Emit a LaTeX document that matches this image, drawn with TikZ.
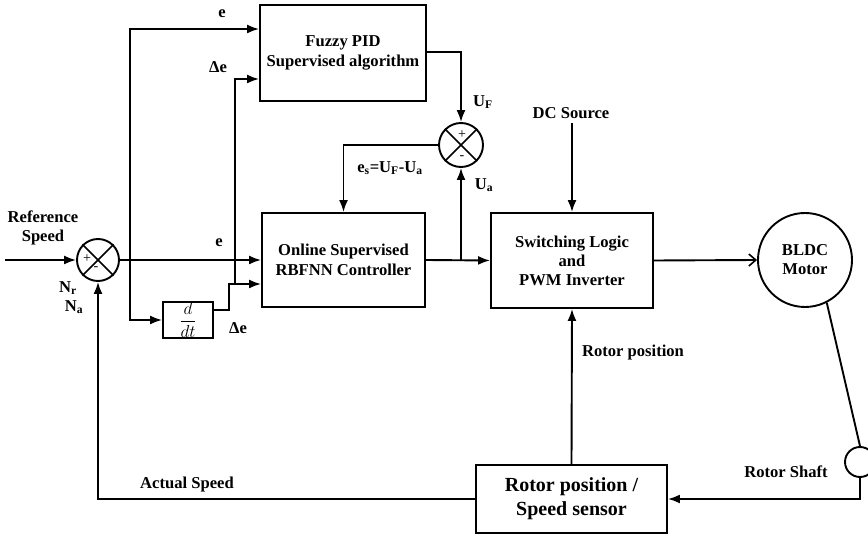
\documentclass[tikz,border=0pt]{standalone}
\usepackage{fontspec}
\setmainfont{Liberation Serif}
\usetikzlibrary{arrows.meta}

\begin{document}
\begin{tikzpicture}[x=1pt,y=-1pt,line width=1.9pt,
  txt/.style={font=\fontsize{16.6}{19}\selectfont\bfseries},
  bigtxt/.style={font=\fontsize{20}{24}\selectfont\bfseries},
  blk/.style={draw,rectangle,inner sep=0pt,align=center,txt},
  sumpt/.style={draw,circle,inner sep=0pt,minimum size=#1},
  lbl/.style={txt,inner sep=0pt},
  sgn/.style={font=\fontsize{14}{14}\selectfont,inner sep=0pt},
  arr/.style={-{Latex[length=12pt,width=9pt]}},
  barb/.style={-{Straight Barb[length=7pt,width=12pt,line width=1.6pt]}}
]
\useasboundingbox (0,0) rectangle (868,537);

% blocks
\node[blk,minimum width=166pt,minimum height=96pt] (fuzzy) at (343,53)
  {Fuzzy PID\\[1pt]Supervised algorithm};
\node[blk,minimum width=163pt,minimum height=94pt] (rbf) at (343.5,260)
  {Online Supervised\\[1pt]RBFNN Controller};
\node[blk,minimum width=162pt,minimum height=95pt] (sw) at (572,260.5)
  {Switching Logic\\and\\PWM Inverter};
\node[blk,bigtxt,minimum width=191pt,minimum height=68pt] (sensor) at (571.5,499)
  {Rotor position /\\Speed sensor};
\node[draw,rectangle,inner sep=0pt,minimum width=50pt,minimum height=36pt] (ddt) at (188,320)
  {\fontsize{17}{17}\selectfont$\displaystyle\frac{d}{dt}$};

% summing junctions
\node[sumpt=42pt] (sum1) at (98,260) {};
\draw[line width=1.5pt] (sum1.45) -- (sum1.225) (sum1.135) -- (sum1.315);
\node[sgn] at (87,259) {+};
\node[sgn] at (96,269) {-};
\node[sumpt=44pt] (sum2) at (461,145) {};
\draw[line width=1.5pt] (sum2.45) -- (sum2.225) (sum2.135) -- (sum2.315);
\node[sgn] at (462,135) {+};
\node[sgn] at (462,158) {-};

% motor and shaft
\node[draw,circle,inner sep=0pt,minimum size=94pt,align=center,txt] (motor) at (805,260)
  {BLDC\\Motor};
\node[draw,circle,inner sep=0pt,minimum size=30pt] (shaft) at (860,462) {};

% free ends and branch points
\coordinate (in) at (5,260);
\coordinate (b1) at (130,260);
\coordinate (jdd) at (229,284);
\coordinate (jde) at (235,284);
\coordinate (jua) at (461,260);
\coordinate (dcend) at (572,123);

% labels
\node[lbl,align=center] at (43,228) {Reference\\Speed};
\node[lbl] at (68,288) {N\textsubscript{r}};
\node[lbl] at (74,307) {N\textsubscript{a}};
\node[lbl] at (222,14) {e};
\node[lbl] at (218,67) {Δe};
\node[lbl] at (219,243) {e};
\node[lbl] at (238,328) {Δe};
\node[lbl] at (483,102) {U\textsubscript{F}};
\node[lbl] at (484,185) {U\textsubscript{a}};
\node[lbl] at (390,168) {e\textsubscript{s}=U\textsubscript{F}-U\textsubscript{a}};
\node[lbl] (dc) at (571,113) {DC Source};
\node[lbl] at (633,353) {Rotor position};
\node[lbl] at (786,472) {Rotor Shaft};
\node[lbl] at (187,485) {Actual Speed};

% connectors
\draw[arr] (in) -- (sum1.west);
\draw[arr] (sum1.east) -- (rbf.west);
\draw[arr] (b1) |- (fuzzy.west |- 0,29);
\draw[arr] (b1) |- (ddt.west);
\draw[arr] (ddt.east |- 0,310) -| (jdd) -- (rbf.west |- jdd);
\draw[arr] (jde) |- (fuzzy.west |- 0,79);
\draw[arr] (fuzzy.east |- 0,52) -| (sum2.north);
\draw[arr] (sum2.west) -| (rbf.north);
\draw[arr] (rbf.east) -- (sw.west);
\draw[arr] (jua) -- (sum2.south);
\draw[arr] (dcend) -- (sw.north);
\draw[barb] (sw.east) -- (motor.west);
\draw (motor.-63) -- (shaft.north);
\draw[arr] (shaft.south) |- (sensor.east);
\draw[arr] (sensor.north) -- (sw.south);
\draw[arr] (sensor.west) -| (sum1.south);
\end{tikzpicture}
\end{document}
